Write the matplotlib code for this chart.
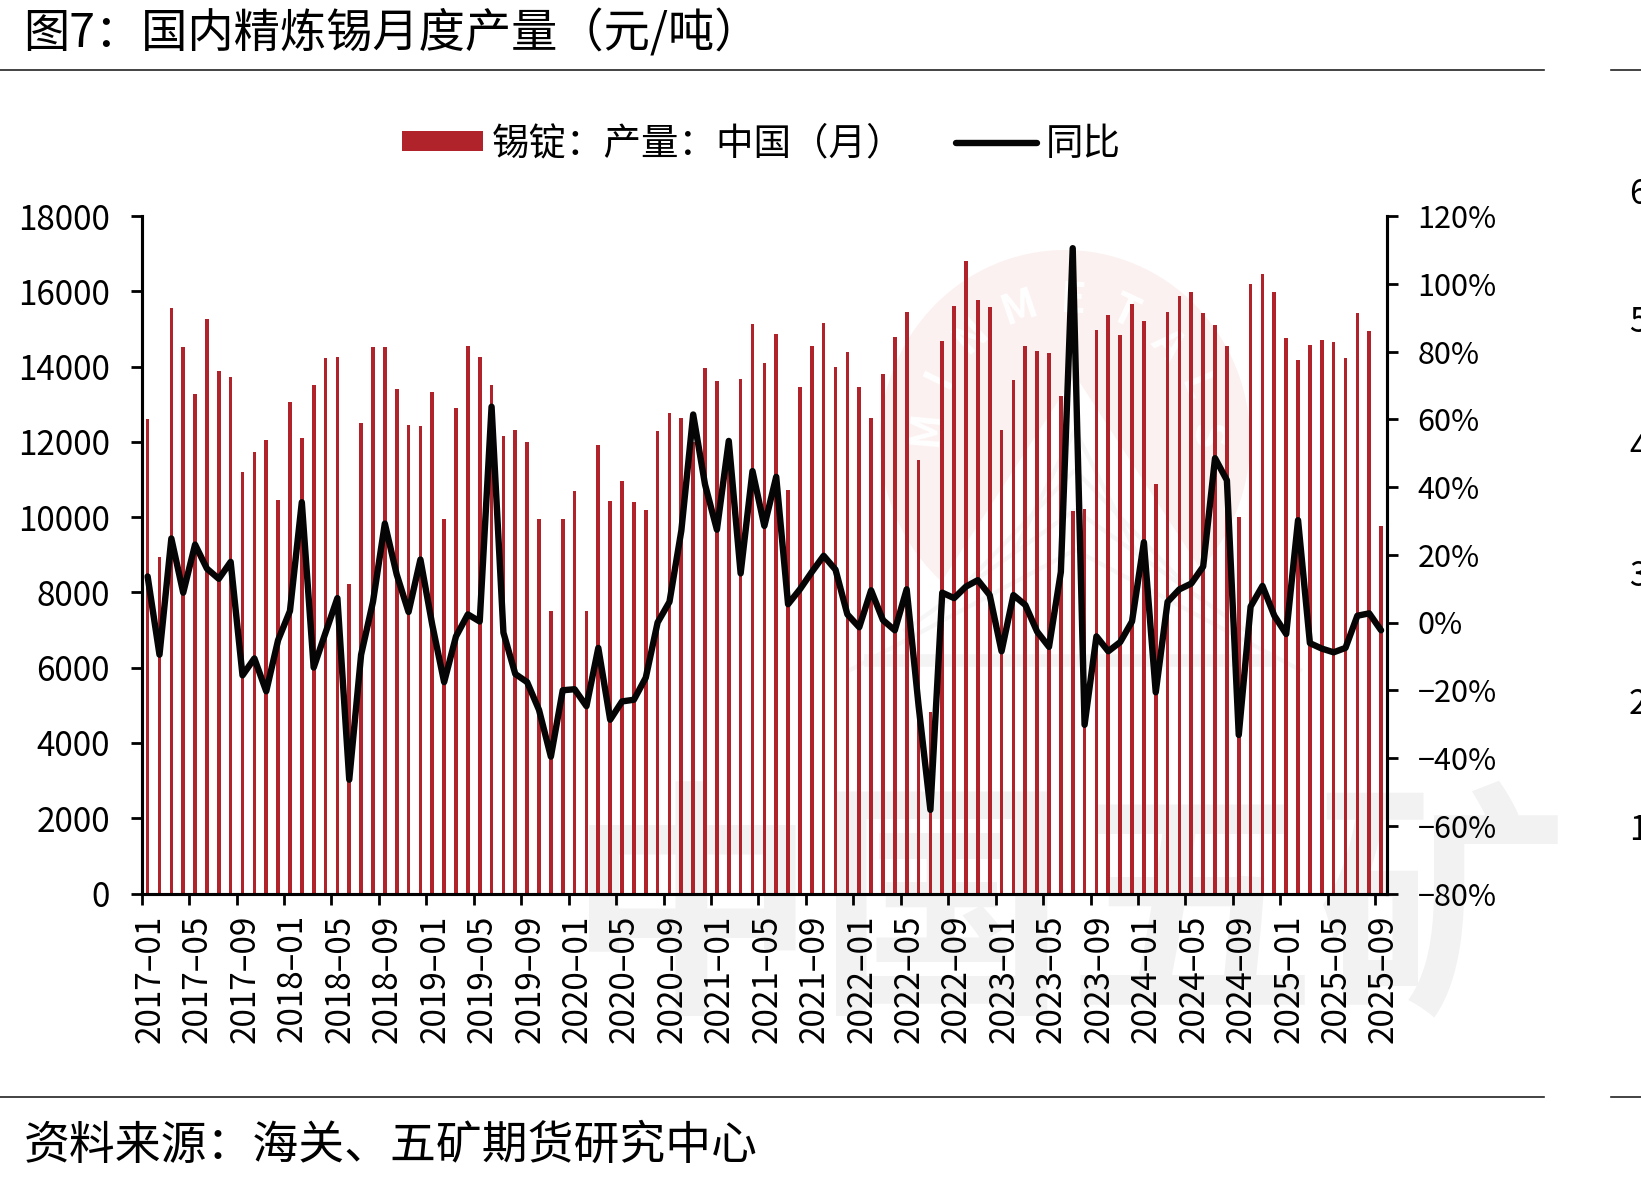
import numpy as np
import pandas as pd
import matplotlib
matplotlib.use('Agg')
import matplotlib.pyplot as plt
from matplotlib.lines import Line2D
from matplotlib.patches import Ellipse, Polygon
from matplotlib.transforms import ScaledTranslation

plt.rcParams['font.family'] = ['Noto Sans CJK SC', 'DejaVu Sans']

W, H = 1641, 1178

# monthly tin ingot output, tonnes
output_2017 = [12594, 8933, 15560, 14523, 13278, 15255, 13876, 13717, 11203, 11728, 12045, 10459]
output_2018 = [13058, 12094, 13498, 14218, 14242, 8225, 12497, 14523, 14510, 13400, 12448, 12424]
output_2019 = [13327, 9958, 12912, 14559, 14254, 13498, 12143, 12326, 11997, 9946, 7505, 9958]
output_2020 = [10703, 7493, 11911, 10422, 10959, 10398, 10178, 12289, 12753, 12643, 12000, 13961]
output_2021 = [13608, 11800, 13681, 15133, 14083, 14865, 10727, 13461, 14559, 15169, 13986, 14376]
output_2022 = [13449, 12631, 13790, 14779, 15450, 11521, 4821, 14669, 15621, 16805, 15780, 15584]
output_2023 = [12302, 13632, 14535, 14413, 14352, 13205, 10166, 10227, 14974, 15377, 14828, 15658]
output_2024 = [15206, 10874, 15462, 15865, 15987, 15414, 15096, 14535, 9995, 16195, 16463, 15987]
output_2025 = [14755, 14169, 14571, 14694, 14657, 14218, 15426, 14938, 9751]
output = (output_2017 + output_2018 + output_2019 + output_2020 + output_2021
          + output_2022 + output_2023 + output_2024 + output_2025)

# year on year change, percent
yoy_2017 = [13.6, -9.5, 24.8, 8.8, 23.0, 15.9, 12.9, 17.9, -15.6, -10.6, -20.3, -5.2]
yoy_2018 = [3.4, 35.5, -13.3, -3.0, 7.2, -46.4, -9.5, 6.1, 29.2, 14.2, 3.1, 18.6]
yoy_2019 = [-0.7, -17.6, -4.1, 2.4, 0.3, 63.7, -3.0, -15.2, -17.6, -25.8, -39.6, -20.0]
yoy_2020 = [-19.7, -24.7, -7.5, -28.7, -23.3, -22.8, -16.3, 0.0, 6.1, 27.1, 61.4, 40.7]
yoy_2021 = [27.4, 53.6, 14.5, 44.7, 28.5, 43.0, 5.4, 9.8, 14.9, 19.7, 15.6, 2.4]
yoy_2022 = [-1.4, 9.5, 0.7, -2.3, 9.8, -24.4, -55.3, 8.8, 7.2, 10.6, 12.5, 8.1]
yoy_2023 = [-8.5, 8.1, 5.2, -2.7, -7.2, 14.9, 110.5, -30.2, -4.1, -8.5, -5.8, 0.3]
yoy_2024 = [23.7, -20.6, 6.1, 9.8, 11.5, 16.5, 48.5, 42.0, -33.2, 4.7, 10.8, 2.0]
yoy_2025 = [-3.4, 30.2, -6.1, -7.7, -8.8, -7.5, 2.0, 2.7, -2.3]
yoy = (yoy_2017 + yoy_2018 + yoy_2019 + yoy_2020 + yoy_2021
       + yoy_2022 + yoy_2023 + yoy_2024 + yoy_2025)

months = pd.date_range('2017-01-01', periods=len(output), freq='MS').strftime('%Y–%m').tolist()
left_ticks = list(range(0, 18001, 2000))
right_ticks = list(range(-80, 121, 20))
right_labels = [f'{v}%'.replace('-', '−') for v in right_ticks]
next_chart_digits = ['6', '5', '4', '3', '2', '1']


def fx(x):
    return x / W


def fy(y):
    return 1 - y / H


fig = plt.figure(figsize=(W / 100, H / 100), dpi=100)

# pale company mark behind the plot
wm_grey = '#F2F2F2'
wm_pink = '#FBF1F0'
fig.text(fx(1067), fy(921), '中国五矿', fontsize=180, fontweight='bold', color=wm_grey,
         ha='center', va='center', zorder=-5)
fig.add_artist(Ellipse((fx(1065), fy(440)), 370 / W, 380 / H, transform=fig.transFigure,
                       facecolor=wm_pink, edgecolor='none', zorder=-4))
fig.add_artist(Polygon([(fx(1075), fy(375)), (fx(865), fy(700)), (fx(1285), fy(700))],
                       transform=fig.transFigure, facecolor='white', edgecolor='none', zorder=-3))
for i, top in enumerate([430, 470, 510, 550]):
    half = 60 + i * 55
    fig.add_artist(Line2D([fx(1075 - half), fx(1075), fx(1075 + half)],
                          [fy(top + 120), fy(top), fy(top + 120)], transform=fig.transFigure,
                          color='#F6F6F6', lw=3, zorder=-2))
fig.add_artist(Line2D([fx(870), fx(1270)], [fy(660), fy(660)], transform=fig.transFigure,
                      color='#F4F4F4', lw=9, zorder=-2))
for ch, ang in zip('MINMETALS', [-85, -64, -42, -19, 3, 25, 47, 68, 88]):
    r = 140
    cx = 1065 + r * np.sin(np.radians(ang))
    cy = 440 - r * np.cos(np.radians(ang))
    fig.text(fx(cx), fy(cy), ch, color='white', fontsize=30, fontweight='bold',
             rotation=-ang, ha='center', va='center', zorder=-3)

ax1 = fig.add_axes([fx(141.7), fy(893.5), (1387 - 141.7) / W, (893.5 - 216) / H])
ax1.patch.set_alpha(0)
x = np.arange(len(output))
bars = ax1.bar(x, output, width=0.31, color='#B0232A', label='锡锭：产量：中国（月）')
ax1.set_xlim(-0.5, len(output) - 0.5)
ax1.set_ylim(0, 18000)
ax1.set_yticks(left_ticks)
ax1.tick_params(axis='y', labelsize=24, length=8, width=2, pad=15)

# ticks sit between the bars, the month labels under the bars themselves
ax1.set_xticks(x[::4] - 0.5)
ax1.set_xticklabels([])
ax1.tick_params(axis='x', which='major', length=8, width=2)
ax1.set_xticks(x[::4], minor=True)
ax1.set_xticklabels(months[::4], minor=True, rotation=90, fontsize=24)
ax1.tick_params(axis='x', which='minor', length=0, pad=15)
nudge = ScaledTranslation(2.5 / 100, 0, fig.dpi_scale_trans)
for lab in ax1.get_xticklabels(minor=True):
    lab.set_transform(lab.get_transform() + nudge)

ax2 = ax1.twinx()
ax2.patch.set_alpha(0)
line, = ax2.plot(x, yoy, color='#050505', lw=4.6, solid_capstyle='round', solid_joinstyle='round',
                 label='同比')
ax2.set_ylim(-80, 120)
ax2.set_yticks(right_ticks)
ax2.set_yticklabels(right_labels)
ax2.tick_params(axis='y', labelsize=22, length=8, width=2, pad=14)

for ax in (ax1, ax2):
    ax.spines['top'].set_visible(False)
    for s in ('left', 'right', 'bottom'):
        ax.spines[s].set_linewidth(2.2)

fig.legend(handles=[bars, line], loc='center', bbox_to_anchor=(fx(761.5), fy(144)), ncol=2,
           frameon=False, fontsize=27, handlelength=2.15, handleheight=0.45, handletextpad=0.25,
           columnspacing=1.37, borderpad=0, borderaxespad=0)

fig.text(fx(23), fy(34), '图7：国内精炼锡月度产量（元/吨）', fontsize=33.3, ha='left', va='center')
fig.text(fx(24), fy(1146), '资料来源：海关、五矿期货研究中心', fontsize=33, ha='left', va='center')

# header and footer rules, with the start of the neighbouring panel's
for y in (69.5, 1097):
    for x0, x1 in ((0, 1544), (1611, 1641)):
        fig.add_artist(Line2D([fx(x0), fx(x1)], [fy(y), fy(y)], transform=fig.transFigure,
                              color='#222222', lw=1.2))
for d, y in zip(next_chart_digits, [194, 322, 450, 577, 704, 831]):
    fig.text(fx(1629), fy(y), d, fontsize=24, ha='left', va='center')

fig.savefig('out.png', dpi=100)
